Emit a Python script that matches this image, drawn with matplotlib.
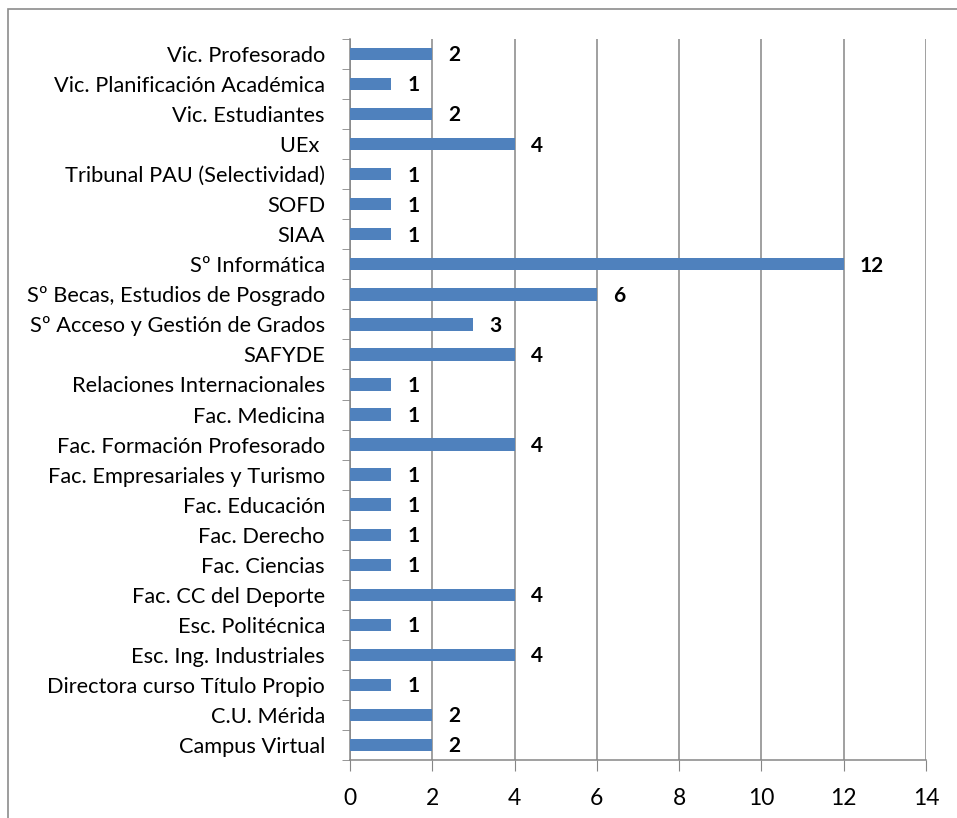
"""Horizontal bar chart: count per service / faculty."""
import numpy as np
import matplotlib

matplotlib.use("Agg")
import matplotlib.pyplot as plt
from matplotlib.patches import Rectangle

plt.rcParams["font.family"] = ["Lato", "DejaVu Sans"]

# categories listed bottom -> top, as drawn
categories = [
    "Campus Virtual",
    "C.U. Mérida",
    "Directora curso Título Propio",
    "Esc. Ing. Industriales",
    "Esc. Politécnica",
    "Fac. CC del Deporte",
    "Fac. Ciencias",
    "Fac. Derecho",
    "Fac. Educación",
    "Fac. Empresariales y Turismo",
    "Fac. Formación Profesorado",
    "Fac. Medicina",
    "Relaciones Internacionales",
    "SAFYDE",
    "Sº Acceso y Gestión de Grados",
    "Sº Becas, Estudios de Posgrado",
    "Sº Informática",
    "SIAA",
    "SOFD",
    "Tribunal PAU (Selectividad)",
    "UEx ",
    "Vic. Estudiantes",
    "Vic. Planificación Académica",
    "Vic. Profesorado",
]
counts = [2, 2, 1, 4, 1, 4, 1, 1, 1, 1, 4, 1, 1, 4, 3, 6, 12, 1, 1, 1, 4, 2, 1, 2]
x_ticks = [0, 2, 4, 6, 8, 10, 12, 14]

W, H = 957, 818
fig = plt.figure(figsize=(W / 100, H / 100), dpi=100)
# outer chart border (only top/left visible in the crop)
fig.patches.append(Rectangle((8 / W, -0.1), 1.2, 1 - 9.5 / H + 0.1,
                             transform=fig.transFigure, fill=False,
                             edgecolor="#8c8c8c", linewidth=1.2))

ax = fig.add_axes([350 / W, 1 - 760 / H, (926 - 350) / W, (760 - 39) / H])
y = np.arange(len(categories))
ax.barh(y, counts, height=0.41, color="#4F81BD", zorder=3)
for yi, c in zip(y, counts):
    ax.annotate(str(c), (c, yi), xytext=(11.5, -1), textcoords="offset points",
                ha="left", va="center", fontsize=15, fontweight="bold")

ax.set_xlim(0, 14)
ax.set_ylim(-0.5, len(categories) - 0.5)
ax.set_xticks(x_ticks)
ax.set_xticklabels([str(t) for t in x_ticks], fontsize=16.5)
ax.set_yticks(y)
ax.set_yticklabels(categories, fontsize=15.7)
ax.set_yticks(np.arange(-0.5, len(categories), 1), minor=True)
ax.tick_params(axis="y", which="major", length=0, pad=18)
ax.tick_params(axis="y", which="minor", length=6, color="#868686")
ax.tick_params(axis="x", length=8, color="#868686", pad=12)
ax.grid(axis="x", color="#868686", linewidth=1.1, zorder=0)
for side in ("top", "right"):
    ax.spines[side].set_visible(False)
for side in ("left", "bottom"):
    ax.spines[side].set_color("#868686")
    ax.spines[side].set_linewidth(1.1)

fig.savefig("out.png", dpi=100)
